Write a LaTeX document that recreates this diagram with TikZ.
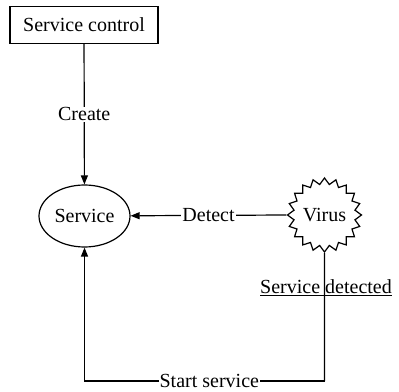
\documentclass[tikz,border=0pt]{standalone}
\usepackage{fontspec}
\setmainfont{Liberation Serif}
\usetikzlibrary{shapes.geometric,arrows.meta}
\begin{document}
\begin{tikzpicture}[x=1pt,y=1pt,
  every node/.style={font=\fontsize{20}{24}\selectfont},
  conn/.style={line width=1.2pt},
  arr/.style={conn,-{Triangle[length=9pt,width=7pt]}},
  lbl/.style={fill=white,inner sep=1pt}]
\useasboundingbox (0,0) rectangle (399,391);
\node[draw,line width=1.2pt,minimum width=148pt,minimum height=37pt,inner sep=0] (ctrl) at (84,366) {Service control};
\node[draw,ellipse,line width=1.2pt,minimum width=91pt,minimum height=62pt,inner sep=0] (svc) at (84.5,175) {Service};
\node[draw,star,star points=20,star point ratio=1.2,minimum size=74pt,inner sep=0,line width=1.2pt] (virus) at (324.5,176) {Virus};
\node (det) at (326,103) {\underline{Service detected}};
\coordinate (c1) at (324.5,10);
\coordinate (c2) at (84.5,10);
\draw[arr] (ctrl) -- node[lbl] {Create} (svc);
\draw[arr] (virus.west) -- node[lbl] {Detect} (svc);
\draw[conn] (virus.south) -- (c1);
\draw[arr] (c1) -- node[lbl,inner sep=0pt,inner xsep=1pt,pos=0.48] {Start service} (c2) -- (svc.south);
\end{tikzpicture}
\end{document}
